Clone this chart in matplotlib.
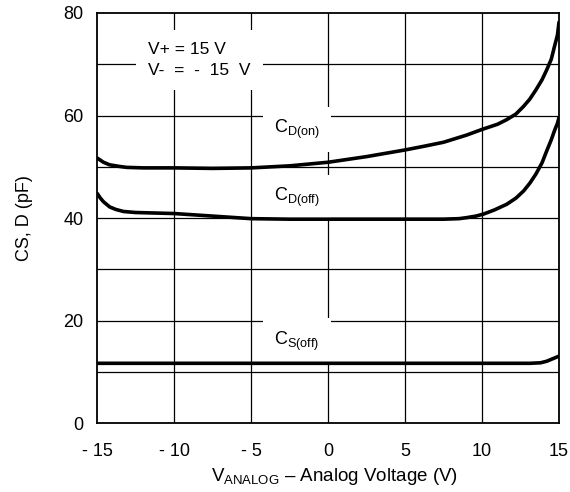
import numpy as np
import matplotlib.pyplot as plt

plt.rcParams['font.family'] = ['Liberation Sans', 'DejaVu Sans']
plt.rcParams['mathtext.fontset'] = 'custom'
plt.rcParams['mathtext.rm'] = 'Liberation Sans'

# datos
v_don = [-15, -14.6, -14.2, -13.6, -13.1, -12, -10, -7.5, -5, -2.5, 0, 2.5, 5, 6.2, 7.5, 9, 10,
         11, 11.6, 12.2, 12.7, 13.1, 13.5, 13.9, 14.2, 14.5, 14.7, 14.9, 15]
c_don = [51.7, 50.9, 50.4, 50.1, 49.9, 49.8, 49.8, 49.7, 49.8, 50.2, 50.9, 52.0, 53.3, 54.0, 54.8, 56.2, 57.3,
         58.3, 59.2, 60.3, 61.8, 63.2, 65.0, 67.0, 68.9, 71.0, 73.4, 75.7, 78.2]

v_doff = [-15, -14.8, -14.6, -14.4, -14.2, -13.8, -13.3, -12.5, -10, -7.5, -5, -2.5, 0, 5, 7.5, 8.5,
          9.0, 9.6, 10.1, 10.8, 11.6, 12.2, 12.7, 13.1, 13.5, 13.9, 14.2, 14.5, 14.7, 14.9, 15]
c_doff = [44.8, 43.9, 43.2, 42.7, 42.2, 41.7, 41.3, 41.1, 40.9, 40.4, 39.9, 39.8, 39.8, 39.8, 39.8, 39.9,
          40.1, 40.4, 40.8, 41.6, 42.7, 43.9, 45.3, 46.8, 48.6, 50.8, 53.1, 55.3, 57.0, 58.5, 59.6]

v_soff = [-15, -10, -5, 0, 5, 10, 13.1, 13.8, 14.2, 14.6, 15]
c_soff = [11.7, 11.7, 11.7, 11.7, 11.7, 11.7, 11.7, 11.8, 12.1, 12.6, 13.1]

xticks = [-15, -10, -5, 0, 5, 10, 15]
xticklabels = ['- 15', '- 10', '- 5', '0', '5', '10', '15']
yticks = [0, 20, 40, 60, 80]

fig = plt.figure(figsize=(5.7, 4.92), dpi=100)
ax = fig.add_axes([0.1707, 0.1396, 0.810, 0.834])

# grilla
for gx in [-10, -5, 0, 5, 10]:
    ax.axvline(gx, color='black', lw=0.9, zorder=1)
for gy in range(10, 80, 10):
    ax.axhline(gy, color='black', lw=0.9, zorder=1)

ax.plot(v_don, c_don, color='black', lw=2.6, zorder=3, solid_capstyle='round')
ax.plot(v_doff, c_doff, color='black', lw=2.6, zorder=3, solid_capstyle='round')
ax.plot(v_soff, c_soff, color='black', lw=2.6, zorder=3, solid_capstyle='round')

ax.set_xlim(-15, 15)
ax.set_ylim(0, 80)
ax.set_xticks(xticks)
ax.set_xticklabels(xticklabels)
ax.set_yticks(yticks)
ax.tick_params(axis='y', length=0, labelsize=13, pad=10)
ax.tick_params(axis='x', length=0, labelsize=13, pad=14)
for s in ax.spines.values():
    s.set_linewidth(1.3)
    s.set_zorder(4)

ax.text(-11.7, 70.8, 'V+ = 15 V\nV-  =  -  15  V', fontsize=12.5, va='center', ha='left',
        linespacing=1.45, bbox=dict(facecolor='white', edgecolor='none', pad=9), zorder=2)
box = dict(facecolor='white', edgecolor='none', pad=8)
ax.text(-3.5, 57.3, r'C$_{\mathregular{D(on)}}$', fontsize=13, va='center', ha='left', bbox=box, zorder=2)
ax.text(-3.5, 44.0, r'C$_{\mathregular{D(off)}}$', fontsize=13, va='center', ha='left', bbox=box, zorder=2)
ax.text(-3.5, 16.0, r'C$_{\mathregular{S(off)}}$', fontsize=13, va='center', ha='left', bbox=box, zorder=2)

ax.set_ylabel('CS, D (pF)', fontsize=13, labelpad=22)
ax.set_xlabel(r'V$_{\mathregular{ANALOG}}$ – Analog Voltage (V)', fontsize=13.5, labelpad=6)
ax.xaxis.set_label_coords(0.513, -0.105)

fig.savefig('out.png', dpi=100)
